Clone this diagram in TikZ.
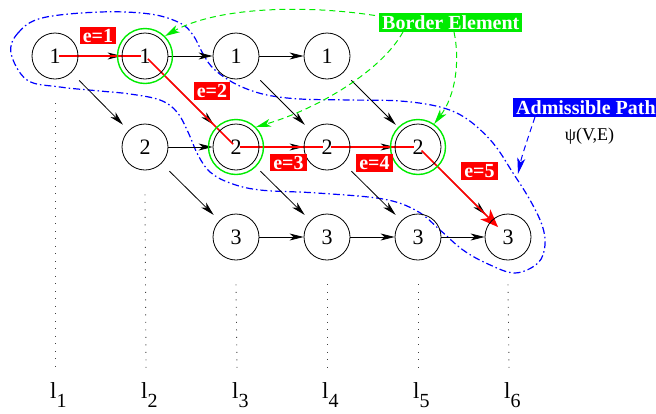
\documentclass[tikz,border=0pt]{standalone}
\usepackage{fontspec}
\setmainfont{Liberation Serif}
\usetikzlibrary{arrows.meta,calc}
\pgfdeclarelayer{bg}
\pgfsetlayers{bg,main}
\definecolor{xgreen}{RGB}{0,235,0}
\definecolor{xblue}{RGB}{0,0,255}
\definecolor{xred}{RGB}{255,0,0}
\newcommand\lsubx[1]{\raisebox{-9pt}{\fontsize{20pt}{20pt}\selectfont #1}}
\begin{document}
\begin{tikzpicture}[x=1pt,y=-1pt,
 vert/.style={circle,draw,line width=0.8pt,minimum size=46pt,inner sep=0pt,font=\fontsize{22pt}{22pt}\selectfont},
 ring/.style={circle,draw=xgreen,line width=1.4pt,minimum size=55pt,inner sep=0pt},
 blk/.style={line width=0.8pt,-{Stealth[length=14pt,width=7pt,inset=4pt]}},
 diag/.style={blk,shorten <=11pt,shorten >=8pt},
 redln/.style={xred,line width=1.5pt,shorten <=4pt,shorten >=4pt},
 redarr/.style={xred,line width=1.5pt,shorten <=5pt,shorten >=14pt,-{Stealth[length=18pt,width=14pt,inset=5pt]}},
 elab/.style={fill=xred,text=white,font=\bfseries\fontsize{20pt}{20pt}\selectfont,inner xsep=3pt,inner ysep=2pt,text height=13.5pt,text depth=0pt},
 boxlab/.style={text=white,font=\bfseries\fontsize{20pt}{20pt}\selectfont,inner xsep=3pt,inner ysep=2.5pt,text height=13.5pt,text depth=0pt,anchor=west},
 gdash/.style={xgreen,line width=1pt,dash pattern=on 6pt off 4pt,-{Stealth[length=15pt,width=8pt,inset=4pt]}},
 bdash/.style={xblue,line width=1pt,dash pattern=on 6pt off 4pt,-{Stealth[length=16pt,width=8pt,inset=4pt]}},
 dotline/.style={line width=0.9pt,dash pattern=on 0.9pt off 6.6pt,black!75},
 llab/.style={font=\fontsize{23pt}{23pt}\selectfont,inner sep=0pt,anchor=base west}
]
\useasboundingbox (0,0) rectangle (656,413);

% vertices
\node[vert] (A1) at (55,56) {1};
\node[vert] (A2) at (145,56) {1};
\node[vert] (A3) at (236,56) {1};
\node[vert] (A4) at (327,56) {1};
\node[vert] (B2) at (145,147) {2};
\node[vert] (B3) at (236,147) {2};
\node[vert] (B4) at (327,147) {2};
\node[vert] (B5) at (418,147) {2};
\node[vert] (C3) at (236,237) {3};
\node[vert] (C4) at (327,237) {3};
\node[vert] (C5) at (418,237) {3};
\node[vert] (C6) at (508,237) {3};

% border rings
\node[ring] (A2g) at (A2) {};
\node[ring] (B3g) at (B3) {};
\node[ring] (B5g) at (B5) {};

% labels
\node[boxlab,fill=xgreen] (BE) at (379,22.5) {Border Element};
\node[boxlab,fill=xblue] (AP) at (513,107.5) {Admissible Path};
\node[font=\fontsize{18pt}{18pt}\selectfont,anchor=base,inner sep=0pt] (psi) at (589.5,140) {ψ(V,E)};

\node[elab] (e1) at (98,35.5) {e=1};
\node[elab] (e2) at (212,91) {e=2};
\node[elab] (e3) at (288.5,162.5) {e=3};
\node[elab] (e4) at (374.5,163) {e=4};
\node[elab] (e5) at (479.5,171) {e=5};

% level labels
\foreach \i/\x in {1/55,2/146,3/237,4/327,5/418,6/509}{
  \node[llab] (l\i) at (\x-5,398) {l\lsubx{\i}};
  \coordinate (d\i) at (\x,368);
}

\coordinate (bp) at (518,174);

\begin{pgfonlayer}{bg}
% admissible path region
\draw[xblue,line width=1.2pt,dash pattern=on 7pt off 3pt on 1.5pt off 3pt]
 plot[smooth cycle,tension=0.6] coordinates {(11,53) (18,33) (42,18) (100,12) (150,14) (180,23) (193,35) (202,52) (211,66) (224,77) (242,87) (267,95) (300,99) (350,100) (400,101) (440,107) (467,119) (493,143) (513,173) (530,200) (542,225) (545,245) (538,263) (515,273) (488,264) (463,250) (440,230) (417,211) (383,199) (317,193) (260,190) (230,183) (210,172) (198,155) (188,132) (177,112) (160,100) (130,94) (100,91) (60,87) (27,80)};

% dotted level lines
\draw[dotline] ([yshift=-24pt]A1.south) -- (d1);
\draw[dotline] ([yshift=-24pt]B2.south) -- (d2);
\draw[dotline] ([yshift=-24pt]C3.south) -- (d3);
\draw[dotline] ([yshift=-24pt]C4.south) -- (d4);
\draw[dotline] ([yshift=-24pt]C5.south) -- (d5);
\draw[dotline] ([yshift=-24pt]C6.south) -- (d6);

% black arrows
\draw[blk] (A1) -- (A2);
\draw[blk] (A2) -- (A3);
\draw[blk] (A3) -- (A4);
\draw[blk] (B2) -- (B3);
\draw[blk] (B3) -- (B4);
\draw[blk] (B4) -- (B5);
\draw[blk] (C3) -- (C4);
\draw[blk] (C4) -- (C5);
\draw[blk] (C5) -- (C6);
\draw[diag] (A1) -- (B2);
\draw[diag] (A2) -- (B3);
\draw[diag] (A3) -- (B4);
\draw[diag] (A4) -- (B5);
\draw[diag] (B2) -- (C3);
\draw[diag] (B3) -- (C4);
\draw[diag] (B4) -- (C5);
\draw[diag] (B5) -- (C6);

% red path
\draw[redln] (A1.center) -- (A2.center);
\draw[redln] (A2.center) -- (B3.center);
\draw[redln] (B3.center) -- (B4.center);
\draw[redln] (B4.center) -- (B5.center);
\draw[redarr] (B5.center) -- (C6.center);

% green callouts
\draw[gdash] ([xshift=-4pt,yshift=7pt]BE.west) .. controls (300,4) and (215,8) .. (A2g.north east);
\draw[gdash] ([xshift=24pt]BE.south west) .. controls (382,70) and (320,108) .. (B3g.north east);
\draw[gdash] ([xshift=75pt]BE.south west) .. controls (460,60) and (456,95) .. (B5g.55);

% blue callout
\draw[bdash] ([xshift=22pt]AP.south west) .. controls (530,132) and (522,155) .. (bp);
\end{pgfonlayer}
\end{tikzpicture}
\end{document}
